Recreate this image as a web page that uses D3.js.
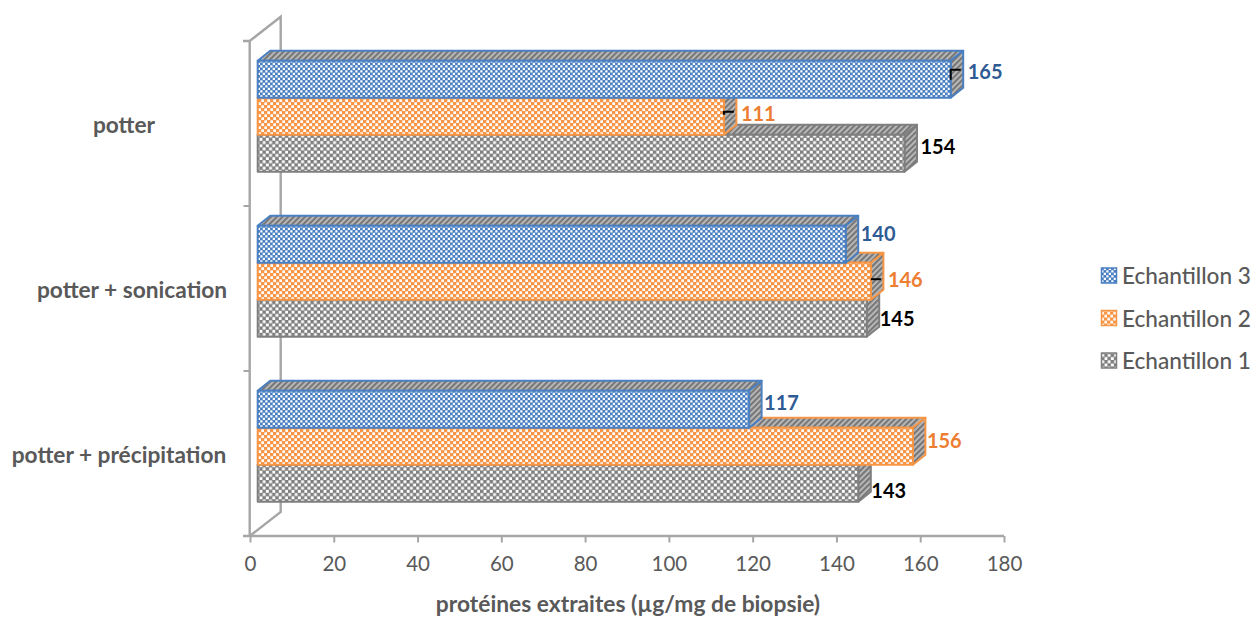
<!DOCTYPE html>
<html>
<head>
<meta charset="utf-8">
<script src="https://d3js.org/d3.v7.min.js"></script>
<style>
  html, body { margin: 0; padding: 0; background: #fff; overflow: hidden; }
  text { font-family: Lato, "Open Sans", sans-serif; }
</style>
</head>
<body>
<div id="my_dataviz"></div>
<script>
// categories, top to bottom
var categories = ["potter", "potter + sonication", "potter + précipitation"];
// series, drawn top to bottom inside each group
var seriesNames = ["Echantillon 3", "Echantillon 2", "Echantillon 1"];
var echantillon3 = [165, 140, 117];
var echantillon2 = [111, 146, 156];
var echantillon1 = [154, 145, 143];
var xTicks = [0, 20, 40, 60, 80, 100, 120, 140, 160, 180];
var axisTitle = "protéines extraites (µg/mg de biopsie)";
// which bars carry the small black leader mark: [category, series]
var errorMarks = [[0, 0], [0, 1], [1, 1]];

var seriesValues = [echantillon3, echantillon2, echantillon1];

var width = 1254, height = 617;
var colors = ["#4a7fc1", "#f79646", "#7f7f7f"];
var labelColors = ["#2f5b94", "#ed7d31", "#000000"];
var patternSize = [5, 6, 6.4];
var gray = "#a6a6a6", textGray = "#595959";
var depthX = 12.5, depthY = 10;
// vertical part of each leader mark
var markDrop = [10, 3, 0];

var svg = d3.select("#my_dataviz").append("svg")
  .attr("width", width)
  .attr("height", height)
  .style("display", "block");

var defs = svg.append("defs");

// Excel style checker fills for the front faces, hatch for top and side
seriesNames.forEach(function(name, i) {
  var s = patternSize[i];
  var front = defs.append("pattern")
    .attr("id", "front" + i)
    .attr("patternUnits", "userSpaceOnUse")
    .attr("width", s)
    .attr("height", s);
  front.append("rect").attr("width", s).attr("height", s).attr("fill", colors[i]);
  front.append("rect").attr("x", s * 0.05).attr("y", s * 0.05)
    .attr("width", s * 0.45).attr("height", s * 0.45).attr("fill", "#fff");
  front.append("rect").attr("x", s * 0.55).attr("y", s * 0.55)
    .attr("width", s * 0.45).attr("height", s * 0.45).attr("fill", "#fff");

  var hatch = defs.append("pattern")
    .attr("id", "hatch" + i)
    .attr("patternUnits", "userSpaceOnUse")
    .attr("width", 4)
    .attr("height", 4)
    .attr("patternTransform", "rotate(45)");
  hatch.append("rect").attr("width", 4).attr("height", 4).attr("fill", "#bdbdbd");
  hatch.append("rect").attr("width", 2.2).attr("height", 4).attr("fill", "#777");
});

// scales
var x = d3.scaleLinear().domain([0, 180]).range([250, 1004]);
// bars sit on the front of the 3d box, shifted from the axis
var xBar = d3.scaleLinear().domain([0, 180]).range([257.7, 257.7 + 180 * 4.2]);
var y = d3.scaleBand().domain(categories).range([41, 536]);
var yInner = d3.scaleBand().domain(d3.range(3)).range([19.7, 130.7]);

// back wall and floor edges
var wall = svg.append("g")
  .attr("fill", "none")
  .attr("stroke", gray)
  .attr("stroke-width", 2.4);
wall.append("path").attr("d", d3.line()([[243, 41], [249.7, 41], [249.7, 536]]));
wall.append("path").attr("d", d3.line()([[249.7, 41], [280.7, 16.7], [280.7, 512], [249.7, 536]]));

// category ticks on the wall
svg.append("g").selectAll("line")
  .data(categories.slice(1))
  .join("line")
    .attr("x1", 243.5)
    .attr("x2", 249)
    .attr("y1", function(d) { return y(d); })
    .attr("y2", function(d) { return y(d); })
    .attr("stroke", gray)
    .attr("stroke-width", 2);

// x axis
var axis = svg.append("g")
  .attr("transform", "translate(0,536)")
  .call(d3.axisBottom(x).tickValues(xTicks).tickSize(6.5).tickPadding(14).tickSizeOuter(0));
axis.select(".domain").attr("stroke", gray).attr("stroke-width", 2.4)
  .attr("d", "M243,0H1004");
axis.selectAll(".tick line").attr("stroke", gray).attr("stroke-width", 2);
axis.selectAll(".tick text")
  .attr("fill", textGray)
  .style("font-size", "20.5px");

// bars, bottom series first so that the upper ones cover their tops
var barsLayer = svg.append("g");
var rows = [];
categories.forEach(function(c, ci) {
  [2, 1, 0].forEach(function(si) {
    rows.push({ cat: c, ci: ci, si: si, value: seriesValues[si][ci] });
  });
});

rows.forEach(function(d) {
  var x0 = xBar(0), x1 = xBar(d.value);
  var y0 = y(d.cat) + yInner(d.si), y1 = y0 + yInner.bandwidth();
  var g = barsLayer.append("g")
    .attr("stroke", colors[d.si])
    .attr("stroke-width", 2)
    .attr("stroke-linejoin", "round");
  g.append("path")
    .attr("fill", "url(#hatch" + d.si + ")")
    .attr("d", d3.line()([[x0, y0], [x0 + depthX, y0 - depthY], [x1 + depthX, y0 - depthY], [x1, y0]]) + "Z");
  g.append("path")
    .attr("fill", "url(#hatch" + d.si + ")")
    .attr("d", d3.line()([[x1, y0], [x1 + depthX, y0 - depthY], [x1 + depthX, y1 - depthY], [x1, y1]]) + "Z");
  g.append("rect")
    .attr("x", x0)
    .attr("y", y0)
    .attr("width", x1 - x0)
    .attr("height", y1 - y0)
    .attr("fill", "url(#front" + d.si + ")");
});

// data labels were moved by hand in the original: offsets from the bar end and middle
var labelNudge = [
  [[17, -7.5], [17, -2.5], [16, -6.5]],
  [[15, -10], [17, -1.5], [13, 0.5]],
  [[15, -6], [14, -5], [13, 8]]
];
function labelY(ci, si) {
  return y(categories[ci]) + yInner(si) + yInner.bandwidth() / 2 + labelNudge[ci][si][1];
}

// small black leader marks between the bar end and the moved label
errorMarks.forEach(function(m, i) {
  var cx = xBar(seriesValues[m[1]][m[0]]);
  var cy = labelY(m[0], m[1]) - 2 + (markDrop[i] ? 0 : 1.5);
  svg.append("path")
    .attr("d", d3.line()([[cx, cy + markDrop[i]], [cx, cy], [cx + 10, cy]]))
    .attr("fill", "none")
    .attr("stroke", "#000")
    .attr("stroke-width", 2);
});

svg.append("g").selectAll("text")
  .data(rows)
  .join("text")
    .attr("x", function(d) { return xBar(d.value) + labelNudge[d.ci][d.si][0]; })
    .attr("y", function(d) { return labelY(d.ci, d.si); })
    .attr("dy", "0.36em")
    .attr("fill", function(d) { return labelColors[d.si]; })
    .style("font-size", "20px")
    .style("font-weight", "700")
    .text(function(d) { return d.value; });

// category labels
var catCenter = [124, 132, 119];
svg.append("g").selectAll("text")
  .data(categories)
  .join("text")
    .attr("x", function(d, i) { return catCenter[i]; })
    .attr("y", function(d) { return y(d) + y.bandwidth() / 2 + 1; })
    .attr("dy", "0.36em")
    .attr("text-anchor", "middle")
    .attr("fill", textGray)
    .style("font-size", "22.7px")
    .style("font-weight", "700")
    .text(function(d) { return d; });

// axis title
svg.append("text")
  .attr("x", 628)
  .attr("y", 604)
  .attr("dy", "0.36em")
  .attr("text-anchor", "middle")
  .attr("fill", textGray)
  .style("font-size", "22.8px")
  .style("font-weight", "700")
  .text(axisTitle);

// legend
var legend = svg.append("g").selectAll("g")
  .data(seriesNames)
  .join("g")
    .attr("transform", function(d, i) { return "translate(1101," + (275 + i * 42.5) + ")"; });
legend.append("rect")
  .attr("x", 0.5)
  .attr("y", -7)
  .attr("width", 15)
  .attr("height", 15)
  .attr("fill", function(d, i) { return "url(#front" + i + ")"; })
  .attr("stroke", function(d, i) { return colors[i]; })
  .attr("stroke-width", 1.5);
legend.append("text")
  .attr("x", 21)
  .attr("y", 1)
  .attr("dy", "0.36em")
  .attr("fill", textGray)
  .style("font-size", "22.6px")
  .style("font-weight", "500")
  .text(function(d) { return d; });
</script>
</body>
</html>
